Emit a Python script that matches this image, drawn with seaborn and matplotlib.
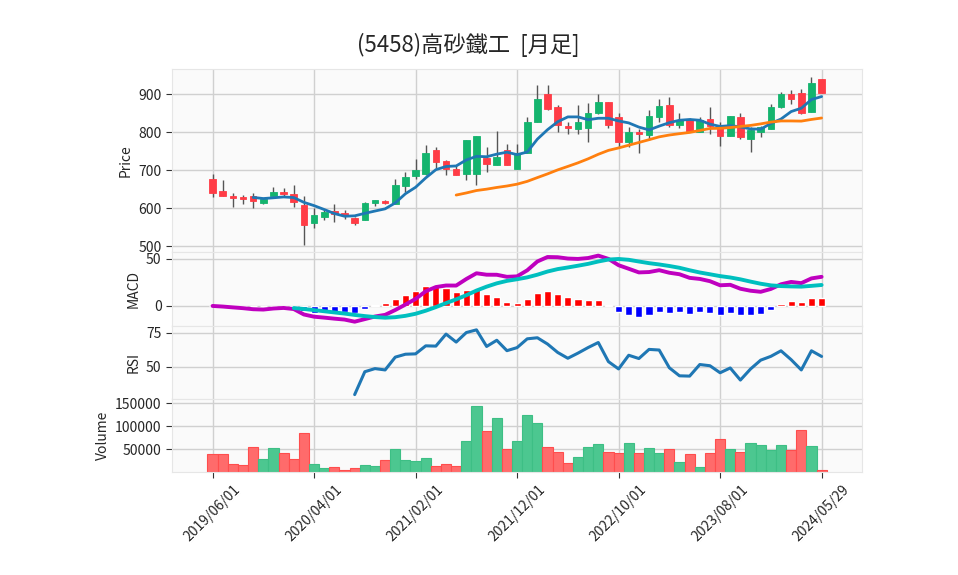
import numpy as np
import pandas as pd
import matplotlib
matplotlib.use("Agg")
from matplotlib import pyplot as plt
import seaborn as sns

title = "(5458)高砂鐵工  [月足]"
tick_pos = [0, 10, 20, 30, 40, 50, 60]
tick_labels = ["2019/06/01", "2020/04/01", "2021/02/01", "2021/12/01",
               "2022/10/01", "2023/08/01", "2024/05/29"]

# monthly OHLC
opens = [676, 645, 632, 630, 632, 614, 632, 642, 637, 608,
         561, 577, 594, 587, 574, 569, 614, 618, 612, 658,
         684, 691, 753, 724, 703, 690, 691, 733, 714, 754,
         704, 746, 827, 900, 866, 816, 809, 810, 849, 879,
         839, 775, 800, 793, 840, 871, 819, 835, 801, 834,
         818, 790, 839, 782, 801, 809, 865, 900, 902, 854, 939]
highs = [691, 674, 639, 634, 639, 625, 656, 653, 660, 632,
         601, 597, 612, 596, 576, 617, 623, 623, 678, 696,
         730, 765, 760, 726, 711, 779, 791, 761, 802, 770,
         770, 839, 925, 923, 871, 827, 870, 877, 899, 880,
         849, 814, 808, 858, 886, 891, 849, 836, 840, 865,
         827, 843, 849, 814, 816, 875, 906, 911, 912, 944, 940]
lows = [630, 632, 603, 611, 602, 610, 632, 632, 603, 504,
        549, 570, 565, 573, 557, 568, 607, 612, 611, 643,
        678, 687, 707, 687, 688, 675, 661, 695, 713, 713,
        703, 745, 826, 859, 801, 796, 796, 774, 848, 812,
        761, 760, 744, 779, 827, 814, 810, 803, 800, 795,
        763, 789, 781, 748, 788, 808, 864, 875, 848, 853, 903]
closes = [640, 632, 627, 625, 619, 625, 642, 638, 617, 556,
          582, 591, 585, 582, 561, 615, 621, 614, 660, 681,
          700, 744, 722, 702, 688, 779, 791, 717, 736, 714,
          746, 826, 886, 860, 818, 810, 826, 849, 879, 818,
          775, 800, 794, 842, 868, 820, 832, 804, 832, 817,
          790, 842, 788, 805, 814, 865, 900, 886, 849, 928, 904]
volumes = [38600, 38600, 17200, 15000, 55800, 28600, 53600, 40800, 28600, 85800,
           17200, 8600, 10700, 4300, 8600, 15000, 13600, 25700, 51500, 25700,
           23600, 30000, 12900, 17200, 12900, 67200, 143700, 88700, 118000, 51500,
           68600, 124400, 107000, 55800, 42900, 19300, 32200, 55800, 62200, 42900,
           40800, 64400, 40800, 53600, 40800, 51500, 21500, 38600, 11400, 40800,
           72900, 51500, 42900, 64400, 60100, 47200, 60100, 47200, 92200, 57900, 4300]

df = pd.DataFrame({"open": opens, "high": highs, "low": lows,
                   "close": closes, "volume": volumes})
df["x"] = np.arange(len(df))
df["up"] = df["close"] >= df["open"]
df["ma5"] = df["close"].rolling(5).mean()
df["ma25"] = df["close"].rolling(25).mean()

ema12 = df["close"].ewm(span=12, adjust=False).mean()
ema26 = df["close"].ewm(span=26, adjust=False).mean()
df["macd"] = ema12 - ema26
df["signal"] = df["macd"].rolling(9).mean()
df["hist"] = df["macd"] - df["signal"]

delta = df["close"].diff()
gain = delta.clip(lower=0).rolling(14).mean()
loss = (-delta.clip(upper=0)).rolling(14).mean()
df["rsi"] = 100 * gain / (gain + loss)

sns.set_style("whitegrid", {"axes.facecolor": "#fafafa", "grid.color": "#d0d0d0",
                            "axes.edgecolor": "#e6e6e6",
                            "xtick.bottom": True, "ytick.left": True})
plt.rcParams["font.family"] = ["Noto Sans CJK JP", "DejaVu Sans"]
plt.rcParams["font.size"] = 10

UP, DOWN = "#14b46e", "#ff3c46"
VUP, VDOWN = "#4cc790", "#ff6b6b"

fig = plt.figure(figsize=(9.58, 5.75), dpi=100)
gs = fig.add_gridspec(4, 1, height_ratios=[5, 2, 2, 2], hspace=0,
                      left=0.1795, right=0.9, top=0.8795, bottom=0.1786)
ax_p = fig.add_subplot(gs[0])
ax_m = fig.add_subplot(gs[1], sharex=ax_p)
ax_r = fig.add_subplot(gs[2], sharex=ax_p)
ax_v = fig.add_subplot(gs[3], sharex=ax_p)

# candles
cols = np.where(df["up"], UP, DOWN)
ax_p.vlines(df["x"], df["low"], df["high"], color="#555555", lw=1, zorder=2)
body_lo = df[["open", "close"]].min(axis=1)
body_h = (df["open"] - df["close"]).abs().clip(lower=1.5)
ax_p.bar(df["x"], body_h, bottom=body_lo, width=0.65, color=cols,
         edgecolor=cols, lw=0.6, zorder=3)
sns.lineplot(data=df, x="x", y="ma5", ax=ax_p, color="#1f77b4", lw=2, zorder=4)
sns.lineplot(data=df, x="x", y="ma25", ax=ax_p, color="#ff7f0e", lw=2, zorder=4)
ax_p.set_ylim(484, 965)
ax_p.set_yticks([500, 600, 700, 800, 900])
ax_p.set_ylabel("Price")

# MACD
hcols = np.where(df["hist"] >= 0, "red", "blue")
ax_m.bar(df["x"], df["hist"].fillna(0), width=0.7, color=hcols, zorder=2)
sns.lineplot(data=df, x="x", y="macd", ax=ax_m, color="#bf00bf", lw=2.8, zorder=3)
sns.lineplot(data=df, x="x", y="signal", ax=ax_m, color="#00bfbf", lw=2.8, zorder=3)
ax_m.set_ylim(-21, 56.7)
ax_m.set_yticks([0, 50])
ax_m.set_ylabel("MACD")

# RSI
sns.lineplot(data=df, x="x", y="rsi", ax=ax_r, color="#1f77b4", lw=2.2)
ax_r.set_ylim(26.5, 80.1)
ax_r.set_yticks([50, 75])
ax_r.set_ylabel("RSI")

# volume
vcols = np.where(df["up"], VUP, VDOWN)
vedge = np.where(df["up"], "#3dbf85", "#ff4d4d")
ax_v.bar(df["x"], df["volume"], width=1.0, color=vcols, edgecolor=vedge, lw=0.8, zorder=2)
ax_v.set_ylim(0, 158600)
ax_v.set_yticks([50000, 100000, 150000])
ax_v.set_ylabel("Volume")

for ax in (ax_p, ax_m, ax_r, ax_v):
    ax.set_xlabel("")
    ax.set_xlim(-4, 64)
    ax.grid(True, color="#d0d0d0", lw=1)
    ax.set_axisbelow(True)
    ax.tick_params(axis="y", length=4, color="#333333", labelsize=10)
    ax.tick_params(axis="x", length=4, color="#333333")
    ax.yaxis.label.set_size(10)
for ax in (ax_p, ax_m, ax_r):
    ax.tick_params(axis="x", labelbottom=False, length=0)

ax_v.set_xticks(tick_pos)
ax_v.set_xticklabels(tick_labels, rotation=45, fontsize=10)

fig.text(0.4885, 0.922, title, ha="center", va="center", fontsize=16)

fig.savefig("out.png", dpi=100)
